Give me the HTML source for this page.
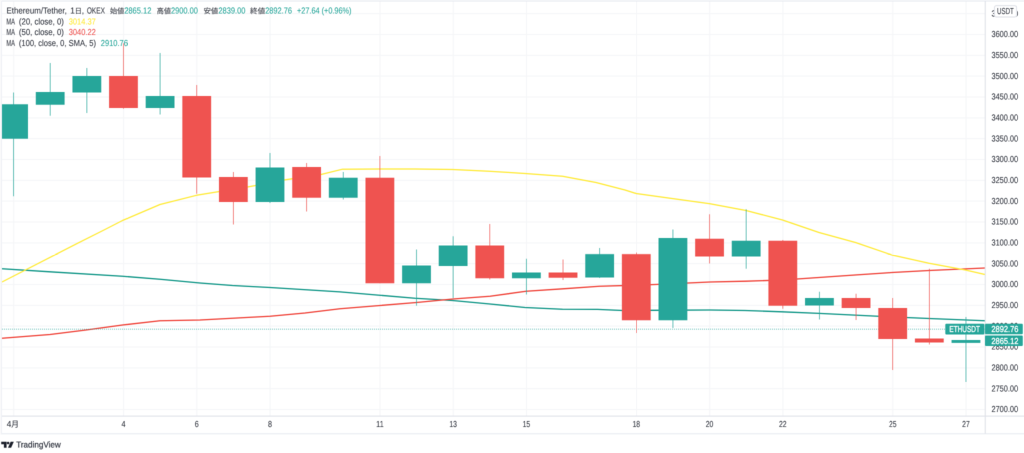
<!DOCTYPE html>
<html lang="ja"><head><meta charset="utf-8"><title>ETHUSDT</title>
<style>html,body{margin:0;padding:0;background:#fff;overflow:hidden}svg{display:block}text{text-rendering:geometricPrecision;font-family:"Liberation Sans","Noto Sans CJK JP",sans-serif;font-size:8.7px;fill:#2f333d;stroke:#2f333d;stroke-width:0.05px}</style></head><body>
<div style="position:relative;width:1024px;height:453px;overflow:hidden;background:#fff">
<div style="position:absolute;left:0;top:0;width:2048px;height:906px;transform:scale(0.5);transform-origin:0 0;will-change:transform">
<svg width="2048" height="906" viewBox="0 0 1024 453">
<defs><filter id="bl" x="0" y="0" width="1024" height="453" filterUnits="userSpaceOnUse" color-interpolation-filters="sRGB"><feConvolveMatrix order="3" kernelMatrix="0.0509 0.1238 0.0509 0.1238 0.3012 0.1238 0.0509 0.1238 0.0509" edgeMode="duplicate" preserveAlpha="false"/></filter></defs>
<g filter="url(#bl)">
<rect width="1024" height="453" fill="#fff"/>
<g stroke="#f5f6f8" stroke-width="1" fill="none">
<line x1="2" x2="985" y1="409.50" y2="409.50"/>
<line x1="2" x2="985" y1="388.67" y2="388.67"/>
<line x1="2" x2="985" y1="367.83" y2="367.83"/>
<line x1="2" x2="985" y1="347.00" y2="347.00"/>
<line x1="2" x2="985" y1="326.17" y2="326.17"/>
<line x1="2" x2="985" y1="305.33" y2="305.33"/>
<line x1="2" x2="985" y1="284.50" y2="284.50"/>
<line x1="2" x2="985" y1="263.67" y2="263.67"/>
<line x1="2" x2="985" y1="242.83" y2="242.83"/>
<line x1="2" x2="985" y1="222.00" y2="222.00"/>
<line x1="2" x2="985" y1="201.17" y2="201.17"/>
<line x1="2" x2="985" y1="180.33" y2="180.33"/>
<line x1="2" x2="985" y1="159.50" y2="159.50"/>
<line x1="2" x2="985" y1="138.67" y2="138.67"/>
<line x1="2" x2="985" y1="117.83" y2="117.83"/>
<line x1="2" x2="985" y1="97.00" y2="97.00"/>
<line x1="2" x2="985" y1="76.17" y2="76.17"/>
<line x1="2" x2="985" y1="55.33" y2="55.33"/>
<line x1="2" x2="985" y1="34.50" y2="34.50"/>
<line x1="2" x2="985" y1="13.67" y2="13.67"/>
<line x1="13.68" x2="13.68" y1="1.5" y2="416"/>
<line x1="123.57" x2="123.57" y1="1.5" y2="416"/>
<line x1="196.83" x2="196.83" y1="1.5" y2="416"/>
<line x1="270.09" x2="270.09" y1="1.5" y2="416"/>
<line x1="379.98" x2="379.98" y1="1.5" y2="416"/>
<line x1="453.24" x2="453.24" y1="1.5" y2="416"/>
<line x1="526.50" x2="526.50" y1="1.5" y2="416"/>
<line x1="636.39" x2="636.39" y1="1.5" y2="416"/>
<line x1="709.65" x2="709.65" y1="1.5" y2="416"/>
<line x1="782.91" x2="782.91" y1="1.5" y2="416"/>
<line x1="892.80" x2="892.80" y1="1.5" y2="416"/>
<line x1="966.06" x2="966.06" y1="1.5" y2="416"/>
</g>
<path d="M2.00,268.75 L50.00,271.80 L122.50,276.25 L160.00,279.25 L200.00,283.00 L232.50,285.50 L270.00,287.50 L340.00,291.90 L415.00,298.25 L452.50,300.50 L490.00,304.00 L525.00,307.50 L562.50,309.25 L597.50,309.40 L622.50,310.50 L672.00,310.20 L710.00,310.00 L745.00,310.50 L782.00,311.80 L819.00,313.40 L878.00,316.25 L929.00,318.50 L985.00,320.75" stroke="#129788" stroke-width="1.3" fill="none" stroke-linejoin="round"/>
<path d="M2.00,338.25 L50.00,334.50 L86.00,330.00 L122.50,325.00 L160.00,320.75 L200.00,320.00 L232.50,318.25 L270.00,316.25 L305.00,313.00 L340.00,308.75 L380.00,305.50 L416.50,302.50 L453.00,299.00 L490.00,296.25 L526.00,291.25 L563.00,288.80 L599.50,286.25 L636.00,285.20 L655.00,284.50 L710.00,282.00 L746.00,281.20 L782.00,280.00 L797.00,279.00 L855.00,275.00 L892.00,272.50 L929.00,270.50 L985.00,268.00" stroke="#f0453b" stroke-width="1.3" fill="none" stroke-linejoin="round"/>
<path d="M2.00,282.00 L77.50,243.30 L104.00,230.00 L122.50,220.50 L160.00,204.50 L196.50,195.30 L218.75,191.60 L247.50,187.00 L284.00,180.00 L321.00,174.50 L342.50,169.20 L380.00,169.00 L415.00,169.00 L452.50,169.50 L489.00,171.30 L525.00,173.50 L562.50,176.25 L596.00,182.50 L625.00,190.00 L636.00,193.50 L672.00,198.50 L710.00,203.75 L746.00,210.50 L782.50,220.00 L819.00,232.50 L855.50,242.50 L892.00,255.00 L929.00,263.25 L965.50,270.00 L985.00,274.50" stroke="#ffeb3b" stroke-width="1.25" fill="none" stroke-linejoin="round"/>
<line x1="2" x2="985" y1="329.2" y2="329.2" stroke="#26a69a" stroke-width="0.85" stroke-dasharray="0.85 1.15" opacity="0.8"/>
<line x1="13.58" x2="13.58" y1="92.5" y2="196.25" stroke="#26a69a" stroke-width="0.65"/>
<rect x="1.40" y="104.25" width="26.58" height="34.50" fill="#26a69a"/>
<line x1="50.21" x2="50.21" y1="63" y2="115.75" stroke="#26a69a" stroke-width="0.65"/>
<rect x="35.81" y="92" width="28.80" height="12.75" fill="#26a69a"/>
<line x1="86.84" x2="86.84" y1="68" y2="113" stroke="#26a69a" stroke-width="0.65"/>
<rect x="72.44" y="76" width="28.80" height="16.50" fill="#26a69a"/>
<line x1="123.47" x2="123.47" y1="43.2" y2="108.75" stroke="#ef5350" stroke-width="0.65"/>
<rect x="109.07" y="76" width="28.80" height="32.00" fill="#ef5350"/>
<line x1="160.10" x2="160.10" y1="53" y2="114.5" stroke="#26a69a" stroke-width="0.65"/>
<rect x="145.70" y="96" width="28.80" height="12.00" fill="#26a69a"/>
<line x1="196.73" x2="196.73" y1="85" y2="193.75" stroke="#ef5350" stroke-width="0.65"/>
<rect x="182.33" y="96" width="28.80" height="81.50" fill="#ef5350"/>
<line x1="233.36" x2="233.36" y1="172" y2="224.5" stroke="#ef5350" stroke-width="0.65"/>
<rect x="218.96" y="177" width="28.80" height="25.00" fill="#ef5350"/>
<line x1="269.99" x2="269.99" y1="153" y2="203" stroke="#26a69a" stroke-width="0.65"/>
<rect x="255.59" y="167.5" width="28.80" height="34.50" fill="#26a69a"/>
<line x1="306.62" x2="306.62" y1="163" y2="211.5" stroke="#ef5350" stroke-width="0.65"/>
<rect x="292.22" y="167" width="28.80" height="30.75" fill="#ef5350"/>
<line x1="343.25" x2="343.25" y1="172" y2="199.5" stroke="#26a69a" stroke-width="0.65"/>
<rect x="328.85" y="177.75" width="28.80" height="20.00" fill="#26a69a"/>
<line x1="379.88" x2="379.88" y1="156" y2="283.25" stroke="#ef5350" stroke-width="0.65"/>
<rect x="365.48" y="177.75" width="28.80" height="105.50" fill="#ef5350"/>
<line x1="416.51" x2="416.51" y1="249.5" y2="305.75" stroke="#26a69a" stroke-width="0.65"/>
<rect x="402.11" y="265.5" width="28.80" height="17.75" fill="#26a69a"/>
<line x1="453.14" x2="453.14" y1="236.25" y2="298" stroke="#26a69a" stroke-width="0.65"/>
<rect x="438.74" y="245.5" width="28.80" height="20.50" fill="#26a69a"/>
<line x1="489.77" x2="489.77" y1="224" y2="279.5" stroke="#ef5350" stroke-width="0.65"/>
<rect x="475.37" y="245.5" width="28.80" height="32.75" fill="#ef5350"/>
<line x1="526.40" x2="526.40" y1="258.75" y2="294.5" stroke="#26a69a" stroke-width="0.65"/>
<rect x="512.00" y="272.5" width="28.80" height="5.75" fill="#26a69a"/>
<line x1="563.03" x2="563.03" y1="259.5" y2="280" stroke="#ef5350" stroke-width="0.65"/>
<rect x="548.63" y="272.5" width="28.80" height="5.25" fill="#ef5350"/>
<line x1="599.66" x2="599.66" y1="248" y2="278" stroke="#26a69a" stroke-width="0.65"/>
<rect x="585.26" y="254" width="28.80" height="23.50" fill="#26a69a"/>
<line x1="636.29" x2="636.29" y1="252.5" y2="333" stroke="#ef5350" stroke-width="0.65"/>
<rect x="621.89" y="254" width="28.80" height="66.25" fill="#ef5350"/>
<line x1="672.92" x2="672.92" y1="229.5" y2="328" stroke="#26a69a" stroke-width="0.65"/>
<rect x="658.52" y="238" width="28.80" height="82.25" fill="#26a69a"/>
<line x1="709.55" x2="709.55" y1="214.25" y2="263.5" stroke="#ef5350" stroke-width="0.65"/>
<rect x="695.15" y="238.75" width="28.80" height="17.75" fill="#ef5350"/>
<line x1="746.18" x2="746.18" y1="209.25" y2="268.75" stroke="#26a69a" stroke-width="0.65"/>
<rect x="731.78" y="240.75" width="28.80" height="15.75" fill="#26a69a"/>
<line x1="782.81" x2="782.81" y1="240" y2="308.75" stroke="#ef5350" stroke-width="0.65"/>
<rect x="768.41" y="240.75" width="28.80" height="65.00" fill="#ef5350"/>
<line x1="819.44" x2="819.44" y1="291.75" y2="319.5" stroke="#26a69a" stroke-width="0.65"/>
<rect x="805.04" y="298" width="28.80" height="7.50" fill="#26a69a"/>
<line x1="856.07" x2="856.07" y1="293.75" y2="320" stroke="#ef5350" stroke-width="0.65"/>
<rect x="841.67" y="298" width="28.80" height="10.00" fill="#ef5350"/>
<line x1="892.70" x2="892.70" y1="298" y2="370" stroke="#ef5350" stroke-width="0.65"/>
<rect x="878.30" y="308" width="28.80" height="31.00" fill="#ef5350"/>
<line x1="929.33" x2="929.33" y1="268.75" y2="344.5" stroke="#ef5350" stroke-width="0.65"/>
<rect x="914.93" y="338.5" width="28.80" height="4.00" fill="#ef5350"/>
<line x1="965.96" x2="965.96" y1="317" y2="381.75" stroke="#26a69a" stroke-width="0.65"/>
<rect x="951.56" y="340" width="28.80" height="2.90" fill="#26a69a"/>
<g stroke="#dfe1e8" stroke-width="1" fill="none">
<line x1="0" x2="1024" y1="1.0" y2="1.0" stroke="#e6e9f0"/>
<line x1="1" x2="1024" y1="433.75" y2="433.75" stroke="#e8ebf1"/>
<line x1="1" x2="1024" y1="416.1" y2="416.1"/>
<line x1="985.25" x2="985.25" y1="1" y2="433.5"/>
</g><g stroke="none">
<rect x="0" y="0" width="1" height="434.5" fill="#fafafb"/>
<rect x="1" y="0.5" width="1" height="433.8" fill="#eff1f6"/>
</g>
<text x="991.50" y="412.20" textLength="26.60" lengthAdjust="spacingAndGlyphs">2700.00</text>
<text x="991.50" y="391.37" textLength="26.60" lengthAdjust="spacingAndGlyphs">2750.00</text>
<text x="991.50" y="370.53" textLength="26.60" lengthAdjust="spacingAndGlyphs">2800.00</text>
<text x="991.50" y="349.70" textLength="26.60" lengthAdjust="spacingAndGlyphs">2850.00</text>
<text x="991.50" y="328.87" textLength="26.60" lengthAdjust="spacingAndGlyphs">2900.00</text>
<text x="991.50" y="308.03" textLength="26.60" lengthAdjust="spacingAndGlyphs">2950.00</text>
<text x="991.50" y="287.20" textLength="26.60" lengthAdjust="spacingAndGlyphs">3000.00</text>
<text x="991.50" y="266.37" textLength="26.60" lengthAdjust="spacingAndGlyphs">3050.00</text>
<text x="991.50" y="245.53" textLength="26.60" lengthAdjust="spacingAndGlyphs">3100.00</text>
<text x="991.50" y="224.70" textLength="26.60" lengthAdjust="spacingAndGlyphs">3150.00</text>
<text x="991.50" y="203.87" textLength="26.60" lengthAdjust="spacingAndGlyphs">3200.00</text>
<text x="991.50" y="183.03" textLength="26.60" lengthAdjust="spacingAndGlyphs">3250.00</text>
<text x="991.50" y="162.20" textLength="26.60" lengthAdjust="spacingAndGlyphs">3300.00</text>
<text x="991.50" y="141.37" textLength="26.60" lengthAdjust="spacingAndGlyphs">3350.00</text>
<text x="991.50" y="120.53" textLength="26.60" lengthAdjust="spacingAndGlyphs">3400.00</text>
<text x="991.50" y="99.70" textLength="26.60" lengthAdjust="spacingAndGlyphs">3450.00</text>
<text x="991.50" y="78.87" textLength="26.60" lengthAdjust="spacingAndGlyphs">3500.00</text>
<text x="991.50" y="58.03" textLength="26.60" lengthAdjust="spacingAndGlyphs">3550.00</text>
<text x="991.50" y="37.20" textLength="26.60" lengthAdjust="spacingAndGlyphs">3600.00</text>
<text x="991.50" y="16.37" textLength="26.60" lengthAdjust="spacingAndGlyphs">3650.00</text>
<rect x="994.5" y="5.6" width="22" height="11.4" rx="2" ry="2" fill="#fff" stroke="#dfe1e8" stroke-width="1"/>
<text x="997.00" y="13.90" textLength="16.80" lengthAdjust="spacingAndGlyphs">USDT</text>
<rect x="945.3" y="323.8" width="39.1" height="10.7" rx="1" fill="#26a69a"/>
<rect x="985" y="323.8" width="37.8" height="10.5" rx="1" fill="#26a69a"/>
<rect x="985" y="335.5" width="37.8" height="10.5" rx="1" fill="#26a69a"/>
<text x="949.40" y="332.00" textLength="30.50" lengthAdjust="spacingAndGlyphs" style="fill:#fff;stroke:#fff;stroke-width:0.3px">ETHUSDT</text>
<text x="991.40" y="332.00" textLength="27.00" lengthAdjust="spacingAndGlyphs" style="fill:#fff;stroke:#fff;stroke-width:0.3px">2892.76</text>
<text x="991.40" y="343.90" textLength="27.00" lengthAdjust="spacingAndGlyphs" style="fill:#fff;stroke:#fff;stroke-width:0.3px">2865.12</text>
<text x="6.70" y="427.20" textLength="12.20" lengthAdjust="spacingAndGlyphs">4<tspan style="font-size:8.1px" dy="-0.2">月</tspan></text>
<text x="121.47" y="427.20" textLength="4.00" lengthAdjust="spacingAndGlyphs">4</text>
<text x="194.73" y="427.20" textLength="4.00" lengthAdjust="spacingAndGlyphs">6</text>
<text x="267.99" y="427.20" textLength="4.00" lengthAdjust="spacingAndGlyphs">8</text>
<text x="376.08" y="427.20" textLength="7.60" lengthAdjust="spacingAndGlyphs">11</text>
<text x="449.34" y="427.20" textLength="7.60" lengthAdjust="spacingAndGlyphs">13</text>
<text x="522.60" y="427.20" textLength="7.60" lengthAdjust="spacingAndGlyphs">15</text>
<text x="632.49" y="427.20" textLength="7.60" lengthAdjust="spacingAndGlyphs">18</text>
<text x="705.75" y="427.20" textLength="7.60" lengthAdjust="spacingAndGlyphs">20</text>
<text x="779.01" y="427.20" textLength="7.60" lengthAdjust="spacingAndGlyphs">22</text>
<text x="888.90" y="427.20" textLength="7.60" lengthAdjust="spacingAndGlyphs">25</text>
<text x="962.16" y="427.20" textLength="7.60" lengthAdjust="spacingAndGlyphs">27</text>
<text x="6.50" y="13.50" textLength="60.30" lengthAdjust="spacingAndGlyphs">Ethereum/Tether,</text>
<text x="70.30" y="13.50" textLength="13.70" lengthAdjust="spacingAndGlyphs">1<tspan style="font-size:7.3px">日</tspan>,</text>
<text x="86.90" y="13.50" textLength="18.00" lengthAdjust="spacingAndGlyphs">OKEX</text>
<text x="110.00" y="13.40" textLength="14.20" lengthAdjust="spacingAndGlyphs" style="fill:#2f333d;font-size:7.3px;stroke:#2f333d">始値</text>
<text x="124.20" y="13.50" textLength="27.20" lengthAdjust="spacingAndGlyphs" style="fill:#26a69a;stroke:#26a69a">2865.12</text>
<text x="156.80" y="13.40" textLength="14.20" lengthAdjust="spacingAndGlyphs" style="fill:#2f333d;font-size:7.3px;stroke:#2f333d">高値</text>
<text x="171.00" y="13.50" textLength="26.90" lengthAdjust="spacingAndGlyphs" style="fill:#26a69a;stroke:#26a69a">2900.00</text>
<text x="203.60" y="13.40" textLength="14.60" lengthAdjust="spacingAndGlyphs" style="fill:#2f333d;font-size:7.3px;stroke:#2f333d">安値</text>
<text x="218.40" y="13.50" textLength="27.00" lengthAdjust="spacingAndGlyphs" style="fill:#26a69a;stroke:#26a69a">2839.00</text>
<text x="250.00" y="13.40" textLength="15.20" lengthAdjust="spacingAndGlyphs" style="fill:#2f333d;font-size:7.3px;stroke:#2f333d">終値</text>
<text x="265.20" y="13.50" textLength="26.80" lengthAdjust="spacingAndGlyphs" style="fill:#26a69a;stroke:#26a69a">2892.76</text>
<text x="297.00" y="13.50" textLength="54.50" lengthAdjust="spacingAndGlyphs" style="fill:#26a69a;stroke:#26a69a">+27.64 (+0.96%)</text>
<text x="6.40" y="24.30" textLength="8.60" lengthAdjust="spacingAndGlyphs">MA</text>
<text x="18.90" y="24.30" textLength="45.00" lengthAdjust="spacingAndGlyphs">(20, close, 0)</text>
<text x="68.75" y="24.30" textLength="27.00" lengthAdjust="spacingAndGlyphs" style="fill:#ffeb3b;stroke:#ffeb3b">3014.37</text>
<text x="6.40" y="35.20" textLength="8.60" lengthAdjust="spacingAndGlyphs">MA</text>
<text x="18.90" y="35.20" textLength="45.00" lengthAdjust="spacingAndGlyphs">(50, close, 0)</text>
<text x="68.75" y="35.20" textLength="27.00" lengthAdjust="spacingAndGlyphs" style="fill:#ef5350;stroke:#ef5350">3040.22</text>
<text x="6.40" y="46.10" textLength="8.60" lengthAdjust="spacingAndGlyphs">MA</text>
<text x="18.90" y="46.10" textLength="77.10" lengthAdjust="spacingAndGlyphs">(100, close, 0, SMA, 5)</text>
<text x="100.80" y="46.10" textLength="27.10" lengthAdjust="spacingAndGlyphs" style="fill:#26a69a;stroke:#26a69a">2910.76</text>
<g fill="#1e222d"><path d="M1.2,441.7 h5.4 v6.0 h-2.7 v-3.4 h-2.7 z"/><circle cx="8.1" cy="443.0" r="1.3"/><path d="M10.6,441.7 h3.2 l-2.7,6.0 h-3.1 z"/></g>
<text x="16.20" y="447.60" textLength="44.60" lengthAdjust="spacingAndGlyphs" style="fill:#363a45;font-size:8.5px;stroke:#363a45;stroke-width:0.2px">TradingView</text>
</g></svg></div></div></body></html>
